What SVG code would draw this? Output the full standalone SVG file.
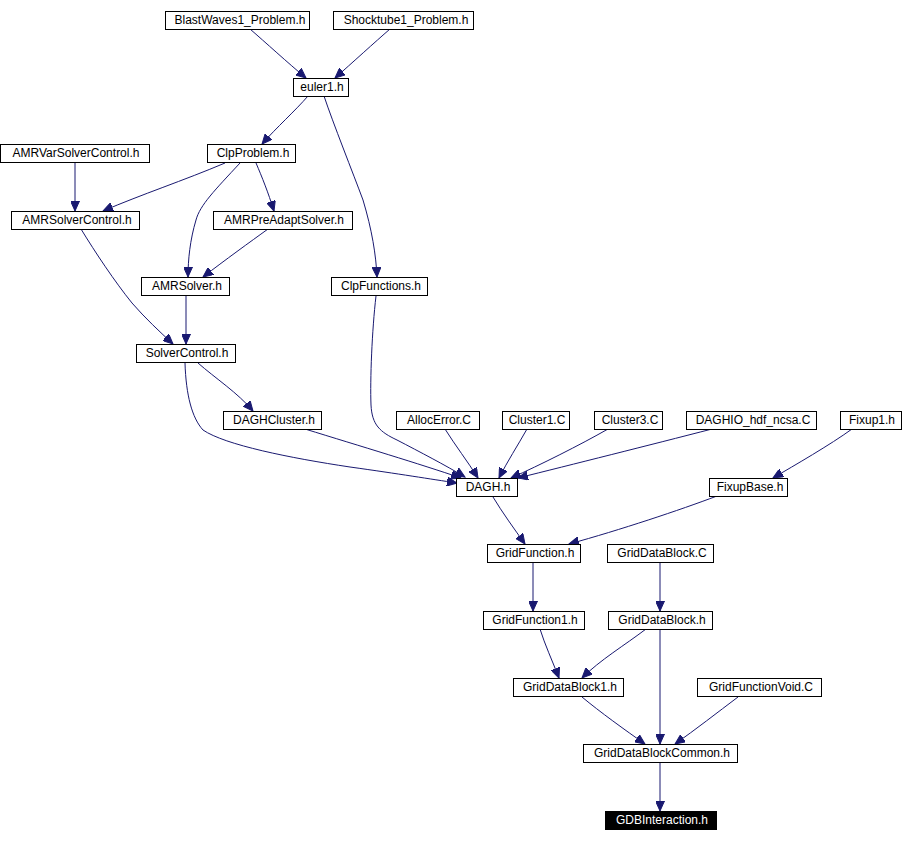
<svg xmlns="http://www.w3.org/2000/svg" width="908" height="842" viewBox="0 0 908 842">
<style>
.n rect{fill:#fff;stroke:#000;stroke-width:1}
.n text{font-family:"Liberation Sans",Arial,sans-serif;font-size:12px;fill:#000;text-anchor:middle}
.n.cur rect{fill:#000}
.n.cur text{fill:#fff}
.e path{fill:none;stroke:#191970;stroke-width:1;marker-end:url(#ah)}
</style>
<defs>
<marker id="ah" markerUnits="userSpaceOnUse" markerWidth="11" markerHeight="9" refX="10" refY="4.5" orient="auto">
<path d="M0,0 L10,4.5 L0,9 Z" fill="#191970" stroke="#191970" stroke-width="1"/>
</marker>
</defs>
<rect width="908" height="842" fill="#fff"/>
<g id="connectors" class="e">
<path d="M250,29 C265,42 288,63 306,78"/>
<path d="M390,29 C375,42 352,63 335,78"/>
<path d="M308,96 C296,110 276,128 262,144"/>
<path d="M324,96 C333,123 353,173 363,200 C372,230 376,255 377,277"/>
<path d="M75,163 L75,211"/>
<path d="M225,163 C185,180 140,195 103,211"/>
<path d="M240,163 C215,190 200,205 196,220 C190,240 188,260 188,277"/>
<path d="M256,163 C262,177 268,192 274,211"/>
<path d="M268,229 C250,242 225,260 203,277"/>
<path d="M81,229 C95,252 115,282 132,303 C145,318 160,332 173,344"/>
<path d="M186,296 L186,344"/>
<path d="M198,363 C215,378 238,393 253,411"/>
<path d="M185,363 C186,395 192,418 203,430 C225,445 290,458 350,467 C400,474 430,479 457,483"/>
<path d="M305,429 C360,446 420,464 461,478"/>
<path d="M376,296 C372,330 370,380 371,405 C372,425 380,432 397,440 C420,452 445,465 465,477"/>
<path d="M445,429 C455,445 468,462 478,478"/>
<path d="M527,429 C518,445 507,462 499,478"/>
<path d="M608,429 C580,445 540,465 511,478"/>
<path d="M712,429 C650,445 570,465 518,478"/>
<path d="M852,429 C830,445 795,465 773,478"/>
<path d="M493,497 C502,512 515,530 525,544"/>
<path d="M717,496 C680,510 620,530 569,544"/>
<path d="M533,563 L533,611"/>
<path d="M660,563 L660,611"/>
<path d="M540,629 C545,645 552,660 559,678"/>
<path d="M646,629 C625,645 600,660 582,678"/>
<path d="M660,629 L660,744"/>
<path d="M582,697 C600,712 625,730 645,744"/>
<path d="M738,697 C718,712 695,730 675,744"/>
<path d="M660,763 L660,811"/>
</g>
<g id="BlastWaves1_Problem" class="n"><rect x="165.5" y="11.5" width="144" height="18"/><text x="240" y="24">BlastWaves1_Problem.h</text></g>
<g id="Shocktube1_Problem" class="n"><rect x="333.5" y="11.5" width="140" height="18"/><text x="406" y="24">Shocktube1_Problem.h</text></g>
<g id="euler1" class="n"><rect x="293.5" y="78.5" width="55" height="18"/><text x="322" y="91">euler1.h</text></g>
<g id="AMRVarSolverControl" class="n"><rect x="0.5" y="144.5" width="149" height="18"/><text x="76" y="157">AMRVarSolverControl.h</text></g>
<g id="ClpProblem" class="n"><rect x="207.5" y="144.5" width="88" height="18"/><text x="253" y="157">ClpProblem.h</text></g>
<g id="AMRSolverControl" class="n"><rect x="11.5" y="211.5" width="128" height="18"/><text x="77" y="224">AMRSolverControl.h</text></g>
<g id="AMRPreAdaptSolver" class="n"><rect x="213.5" y="211.5" width="139" height="18"/><text x="284" y="224">AMRPreAdaptSolver.h</text></g>
<g id="AMRSolver" class="n"><rect x="141.5" y="277.5" width="88" height="18"/><text x="187" y="290">AMRSolver.h</text></g>
<g id="ClpFunctions" class="n"><rect x="331.5" y="277.5" width="96" height="18"/><text x="381" y="290">ClpFunctions.h</text></g>
<g id="SolverControl" class="n"><rect x="136.5" y="344.5" width="99" height="18"/><text x="187" y="357">SolverControl.h</text></g>
<g id="DAGHCluster" class="n"><rect x="223.5" y="411.5" width="98" height="18"/><text x="274" y="424">DAGHCluster.h</text></g>
<g id="AllocError" class="n"><rect x="396.5" y="411.5" width="83" height="18"/><text x="439" y="424">AllocError.C</text></g>
<g id="Cluster1" class="n"><rect x="502.5" y="411.5" width="67" height="18"/><text x="537" y="424">Cluster1.C</text></g>
<g id="Cluster3" class="n"><rect x="594.5" y="411.5" width="68" height="18"/><text x="630" y="424">Cluster3.C</text></g>
<g id="DAGHIO_hdf_ncsa" class="n"><rect x="686.5" y="411.5" width="130" height="18"/><text x="753" y="424">DAGHIO_hdf_ncsa.C</text></g>
<g id="Fixup1" class="n"><rect x="840.5" y="411.5" width="61" height="18"/><text x="872" y="424">Fixup1.h</text></g>
<g id="FixupBase" class="n"><rect x="709.5" y="478.5" width="78" height="18"/><text x="750" y="491">FixupBase.h</text></g>
<g id="DAGH" class="n"><rect x="456.5" y="478.5" width="61" height="18"/><text x="488" y="491">DAGH.h</text></g>
<g id="GridFunction" class="n"><rect x="487.5" y="544.5" width="93" height="18"/><text x="535" y="557">GridFunction.h</text></g>
<g id="GridDataBlockC" class="n"><rect x="607.5" y="544.5" width="106" height="18"/><text x="662" y="557">GridDataBlock.C</text></g>
<g id="GridFunction1" class="n"><rect x="483.5" y="611.5" width="101" height="18"/><text x="535" y="624">GridFunction1.h</text></g>
<g id="GridDataBlock" class="n"><rect x="608.5" y="611.5" width="104" height="18"/><text x="662" y="624">GridDataBlock.h</text></g>
<g id="GridDataBlock1" class="n"><rect x="513.5" y="678.5" width="110" height="18"/><text x="570" y="691">GridDataBlock1.h</text></g>
<g id="GridFunctionVoid" class="n"><rect x="697.5" y="678.5" width="124" height="18"/><text x="761" y="691">GridFunctionVoid.C</text></g>
<g id="GridDataBlockCommon" class="n"><rect x="583.5" y="744.5" width="154" height="18"/><text x="662" y="757">GridDataBlockCommon.h</text></g>
<g id="GDBInteraction" class="n cur"><rect x="605.5" y="811.5" width="111" height="18"/><text x="662" y="824">GDBInteraction.h</text></g>
</svg>
